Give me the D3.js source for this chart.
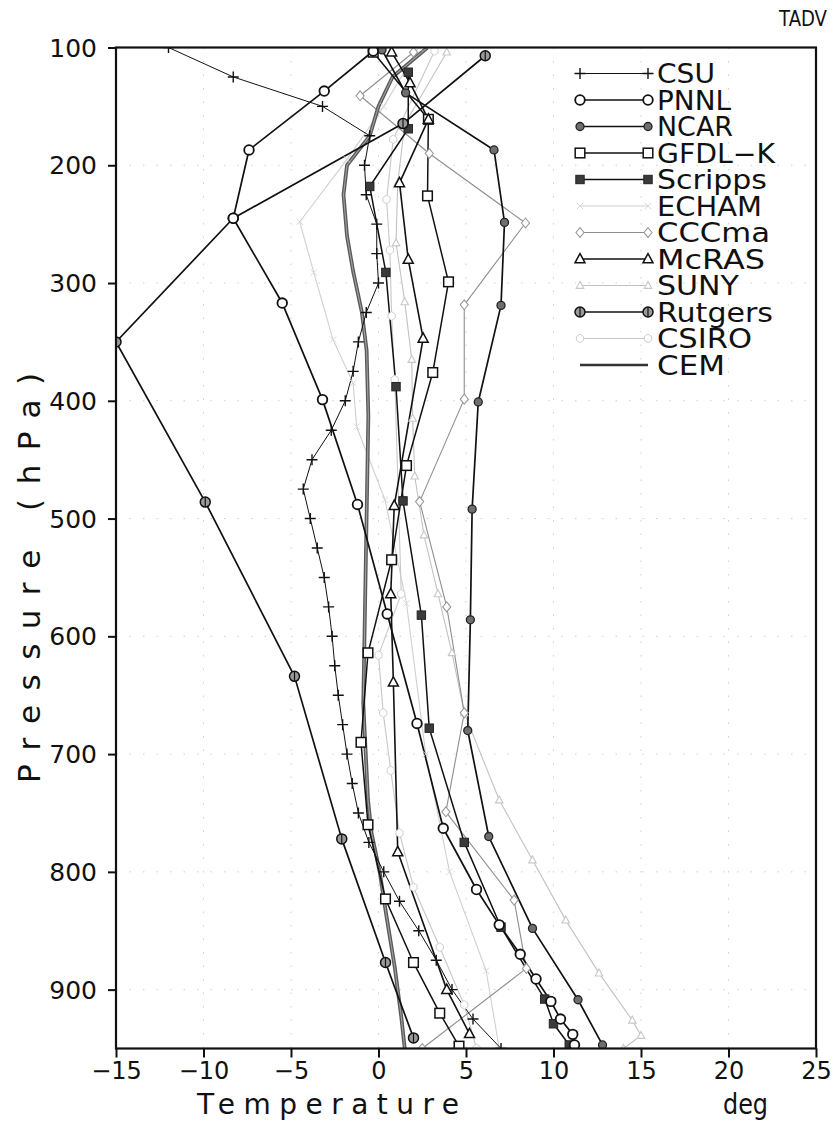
<!DOCTYPE html>
<html><head><meta charset="utf-8">
<script src="https://cdn.jsdelivr.net/npm/d3@7"></script>
<style>
html,body{margin:0;padding:0;background:#fff;}
svg text{font-family:"DejaVu Sans",sans-serif;fill:#111;}
</style></head>
<body>
<svg id="chart" width="835" height="1123"></svg>
<script>
// ---------- data: [pressure hPa, temperature advection] ----------
const xTicks = [-15,-10,-5,0,5,10,15,20,25];
const yTicks = [100,200,300,400,500,600,700,800,900];
const xTickLabels = ["\u221215","\u221210","\u22125","0","5","10","15","20","25"];

const CSU = [[100,-12.0],[125,-8.3],[150,-3.2],[175,-0.5],[200,-0.8],[225,-0.7],[250,-0.1],[275,-0.1],[300,0.0],[325,-0.7],[350,-1.15],[375,-1.45],[400,-1.9],[425,-2.7],[450,-3.8],[475,-4.3],[500,-3.9],[525,-3.5],[550,-3.1],[575,-2.85],[600,-2.65],[625,-2.5],[650,-2.3],[675,-2.05],[700,-1.8],[725,-1.5],[750,-1.15],[775,-0.55],[800,0.3],[825,1.2],[850,2.3],[875,3.3],[900,4.2],[925,5.4],[950,7.0]];
const PNNL = [[103,-0.3],[137,-3.1],[187,-7.4],[245,-8.3],[317,-5.5],[399,-3.2],[488,-1.2],[581,0.5],[674,2.2],[763,3.7],[815,5.6],[845,6.9],[870,8.1],[891,9.0],[910,9.85],[925,10.4],[938,11.1],[947,11.2]];
const NCAR = [[102,0.2],[138.5,1.55],[187,6.6],[248.5,7.2],[319,7.0],[401,5.7],[492,5.35],[586,5.25],[680,5.1],[770,6.3],[848,8.8],[908.6,11.4],[947,12.8]];
const GFDLK = [[104,-0.3],[161,2.85],[226,2.8],[299,4.0],[376,3.1],[455,1.6],[535,0.75],[614,-0.6],[690,-1.0],[760,-0.6],[823,0.4],[877,2.0],[920,3.5],[948,4.6]];
const SCRIPPS = [[121,1.7],[169,1.7],[218,-0.5],[291,0.42],[388,1.0],[485,1.4],[582,2.45],[678,2.9],[775,4.9],[847,7.0],[908,9.5],[929,10.0],[947,10.9]];
const ECHAM = [[100,2.3],[150,0.3],[195,-1.8],[248,-4.5],[291,-3.7],[348,-2.6],[385,-1.45],[422,-1.25],[484,0.37],[572,1.6],[700,2.7],[800,4.06],[884,6.15],[950,6.9]];
const CCCMA = [[104,2.0],[141,-1.05],[190,2.9],[249,8.4],[318.5,4.9],[398.6,4.9],[485.6,2.35],[575,3.9],[665,4.9],[749,3.85],[824,7.75],[882,8.45],[950,2.5]];
const MCRAS = [[104,0.75],[130,1.8],[161,2.85],[215,1.2],[280,1.7],[347,2.55],[489,0.9],[564,0.7],[639,0.85],[783,1.1],[900,3.9],[937.5,5.2]];
const SUNY = [[104,3.9],[165,1.5],[215,1.1],[266,1.0],[316,1.5],[365,1.9],[415,1.95],[464,2.07],[514,2.6],[564,3.4],[614,4.2],[665,4.9],[739,6.9],[790,8.8],[841,10.7],[886,12.6],[926,14.5],[939,15.0],[950,14.0]];
const RUTGERS = [[107,6.1],[164.6,1.4],[245,-8.3],[350,-15.0],[486,-9.9],[634,-4.8],[772,-2.1],[877,0.4],[941,2.0]];
const CSIRO = [[103,3.2],[178,0.84],[229,0.46],[272,0.65],[328,0.75],[382,0.93],[564,1.3],[616,0.0],[665,0.27],[714,0.7],[767,1.2],[813,2.0],[864,3.5],[913,4.9],[950,5.6]];
const CEM = [[100,2.8],[125,0.8],[150,0.0],[175,-0.5],[200,-1.8],[225,-2.0],[260,-1.8],[290,-1.45],[325,-0.95],[357,-0.68],[413,-0.58],[515,-0.7],[600,-0.8],[657,-0.87],[739,-0.6],[767,-0.4],[801,0.08],[838,0.46],[881,0.93],[923,1.3],[950,1.5]];

const seriesNames = ["CSU","PNNL","NCAR","GFDL\u2212K","Scripps","ECHAM","CCCma","McRAS","SUNY","Rutgers","CSIRO","CEM"];
const seriesData = [CSU,PNNL,NCAR,GFDLK,SCRIPPS,ECHAM,CCCMA,MCRAS,SUNY,RUTGERS,CSIRO,CEM];

// ---------- styles ----------
const styles = [
  {stroke:"#111", w:1.0, marker:"plus",     mc:"#111", ms:1},
  {stroke:"#111", w:1.7, marker:"circle",   mc:"#111", ms:1},
  {stroke:"#111", w:1.7, marker:"dot",      mc:"#222", ms:1},
  {stroke:"#111", w:1.5, marker:"square",   mc:"#111", ms:1},
  {stroke:"#111", w:1.5, marker:"fsquare",  mc:"#222", ms:1},
  {stroke:"#d0d0d0", w:1.1, marker:"cross", mc:"#d6d6d6", ms:0.8},
  {stroke:"#8e8e8e", w:1.1, marker:"diamond", mc:"#999", ms:0.9},
  {stroke:"#111", w:1.6, marker:"triangle", mc:"#111", ms:1},
  {stroke:"#c2c2c2", w:1.1, marker:"triangle", mc:"#c8c8c8", ms:0.75},
  {stroke:"#111", w:1.7, marker:"rutgers",  mc:"#111", ms:1},
  {stroke:"#c8c8c8", w:1.1, marker:"hex",   mc:"#c8c8c8", ms:0.8},
  {stroke:"#555", w:3.6, marker:"none",     mc:"#555", ms:1}
];
const drawOrder = [5,10,8,6,11,0,3,7,4,2,9,1];

const svg = d3.select("#chart");
const L = 116, R = 816, T = 47.5, B = 1048.5;
const x = d3.scaleLinear().domain([-15,25]).range([L,R]);
const y = d3.scaleLinear().domain([100,950]).range([T,B]);

svg.append("defs").append("clipPath").attr("id","plotclip")
  .append("rect").attr("x",L).attr("y",T).attr("width",R-L).attr("height",B-T);

// faint dotted grid
const grid = svg.append("g");
yTicks.slice(1).forEach(v=>{
  grid.append("line").attr("x1",L).attr("x2",R).attr("y1",y(v)).attr("y2",y(v))
    .attr("stroke","#cfcfcf").attr("stroke-width",1).attr("stroke-dasharray","1.5,12");
});
xTicks.slice(1,-1).forEach(v=>{
  grid.append("line").attr("y1",T).attr("y2",B).attr("x1",x(v)).attr("x2",x(v))
    .attr("stroke","#cfcfcf").attr("stroke-width",1).attr("stroke-dasharray","1.5,12");
});

// axes
const yAxis = d3.axisLeft(y).tickValues(yTicks).tickSize(8).tickSizeOuter(0).tickFormat(d3.format("d"));
const gy = svg.append("g").attr("transform",`translate(${L},0)`).call(yAxis);
gy.select(".domain").remove();
gy.selectAll(".tick line").attr("stroke","#111").attr("stroke-width",2);
gy.selectAll(".tick text").attr("x",-19).attr("dy",null).attr("dominant-baseline","central")
  .style("font-size","25px").attr("fill","#111").style("font-family","'DejaVu Sans', sans-serif");

const xAxis = d3.axisBottom(x).tickValues(xTicks).tickSize(9).tickSizeOuter(0)
  .tickFormat((d,i)=>xTickLabels[i]);
const gx = svg.append("g").attr("transform",`translate(0,${B})`).call(xAxis);
gx.select(".domain").remove();
gx.selectAll(".tick line").attr("stroke","#111").attr("stroke-width",2);
gx.selectAll(".tick text").attr("y",30).attr("dy",null).style("font-size","24px")
  .attr("fill","#111").style("font-family","'DejaVu Sans', sans-serif");

// lines
const plot = svg.append("g").attr("clip-path","url(#plotclip)");
const line = d3.line().x(d=>x(d[1])).y(d=>y(d[0]));

function marker(g, type, cx, cy, col, k){
  k = k || 1;
  const s = g.append("g").attr("transform",`translate(${cx},${cy}) scale(${k})`);
  switch(type){
    case "plus":
      s.append("path").attr("d","M-5.5,0H5.5M0,-5.5V5.5").attr("stroke",col).attr("stroke-width",1.4); break;
    case "circle":
      s.append("circle").attr("r",4.8).attr("fill","#fff").attr("stroke",col).attr("stroke-width",1.8); break;
    case "dot":
      s.append("circle").attr("r",4).attr("fill","#6e6e6e").attr("stroke",col).attr("stroke-width",1.3); break;
    case "square":
      s.append("rect").attr("x",-4.8).attr("y",-4.8).attr("width",9.6).attr("height",9.6)
        .attr("fill","#fff").attr("stroke",col).attr("stroke-width",1.5); break;
    case "fsquare":
      s.append("rect").attr("x",-4.2).attr("y",-4.2).attr("width",8.4).attr("height",8.4)
        .attr("fill","#3a3a3a").attr("stroke",col).attr("stroke-width",1); break;
    case "cross":
      s.append("path").attr("d","M-4,-4L4,4M-4,4L4,-4").attr("stroke",col).attr("stroke-width",1.2); break;
    case "diamond":
      s.append("path").attr("d","M0,-5.5L4.5,0L0,5.5L-4.5,0Z").attr("fill","#fff").attr("stroke",col).attr("stroke-width",1.2); break;
    case "triangle":
      s.append("path").attr("d","M0,-5.5L5,3.8L-5,3.8Z").attr("fill","#fff").attr("stroke",col).attr("stroke-width",1.5); break;
    case "rutgers":
      s.append("circle").attr("r",5).attr("fill","#9a9a9a").attr("stroke",col).attr("stroke-width",1.5);
      s.append("path").attr("d","M0,-5V5").attr("stroke",col).attr("stroke-width",1.2); break;
    case "hex":
      s.append("path").attr("d","M0,-5.5L4.5,-2.5L4.5,2.5L0,5.5L-4.5,2.5L-4.5,-2.5Z").attr("fill","#fff").attr("stroke",col).attr("stroke-width",1.1); break;
  }
}

drawOrder.forEach(i=>{
  const st = styles[i], data = seriesData[i];
  if(i===11){
    plot.append("path").datum(data).attr("d",line).attr("fill","none")
      .attr("stroke","#5a5a5a").attr("stroke-width",3.8).attr("stroke-linejoin","round");
    plot.append("path").datum(data).attr("d",line).attr("fill","none")
      .attr("stroke","#a0a0a0").attr("stroke-width",1.1).attr("stroke-linejoin","round");
  } else {
    plot.append("path").datum(data).attr("d",line).attr("fill","none")
      .attr("stroke",st.stroke).attr("stroke-width",st.w).attr("stroke-linejoin","round");
  }
});
drawOrder.forEach(i=>{
  const st = styles[i];
  if(st.marker==="none") return;
  seriesData[i].forEach(d=>marker(plot, st.marker, x(d[1]), y(d[0]), st.mc, st.ms));
});

// frame
svg.append("rect").attr("x",L).attr("y",T).attr("width",R-L).attr("height",B-T)
  .attr("fill","none").attr("stroke","#111").attr("stroke-width",2.2);

// legend
const lg = svg.append("g");
const legW = [58,74,76,118,110,105,113,108,82,116,95,68];
seriesNames.forEach((name,i)=>{
  const st = styles[i];
  const cy = 73.5 + i*26.5;
  if(i===11){
    lg.append("line").attr("x1",580).attr("x2",648).attr("y1",cy).attr("y2",cy)
      .attr("stroke","#333").attr("stroke-width",2.4);
  } else {
    lg.append("line").attr("x1",580).attr("x2",648).attr("y1",cy).attr("y2",cy)
      .attr("stroke",st.stroke).attr("stroke-width",st.w);
    marker(lg, st.marker, 580, cy, st.mc, st.ms);
    marker(lg, st.marker, 648, cy, st.mc, st.ms);
  }
  lg.append("text").attr("x",657).attr("y",cy+9.5).style("font-size","26px")
    .attr("textLength",legW[i]).attr("lengthAdjust","spacingAndGlyphs").text(name);
});

// titles
svg.append("text").attr("x",779).attr("y",26).style("font-size","21px")
  .attr("textLength",48).attr("lengthAdjust","spacingAndGlyphs").text("TADV");
svg.append("text").attr("x",197).attr("y",1114).style("font-size","28px")
  .attr("textLength",262).attr("lengthAdjust","spacing").text("Temperature");
svg.append("text").attr("x",723).attr("y",1114).style("font-size","28px")
  .attr("textLength",45).attr("lengthAdjust","spacingAndGlyphs").text("deg");
svg.append("text").attr("transform","translate(40,578) rotate(-90)").attr("text-anchor","middle")
  .style("font-size","31px").attr("textLength",410).attr("lengthAdjust","spacing")
  .text("Pressure (hPa)");
</script>
</body></html>
